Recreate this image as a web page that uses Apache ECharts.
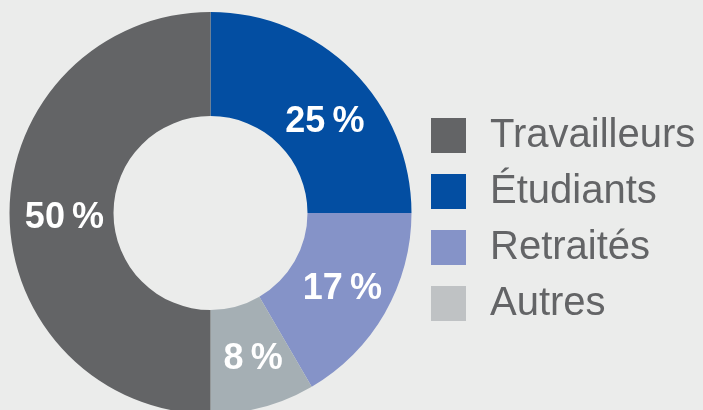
<!DOCTYPE html>
<html>
<head>
<meta charset="utf-8">
<style>
  html, body { margin: 0; padding: 0; background: #ebeceb; }
  #main { width: 703px; height: 410px; }
</style>
<script src="https://cdn.jsdelivr.net/npm/echarts@6/dist/echarts.min.js"></script>
</head>
<body>
<div id="main"></div>
<script>
// slices in clockwise order from the top
var categories = ['Étudiants', 'Retraités', 'Autres', 'Travailleurs'];
var values = [25, 16.6, 8.4, 50];
// legend order
var legendOrder = ['Travailleurs', 'Étudiants', 'Retraités', 'Autres'];

var sliceColors = ['#034ea2', '#8593c8', '#a5afb4', '#636466'];
var legendColors = ['#636466', '#034ea2', '#8593c8', '#bfc2c4'];
// small nudges so labels sit like the original
var labelNudge = [[7, 17], [0, 0], [3, -1], [6, 5]];

var chartDom = document.getElementById('main');
var myChart = echarts.init(chartDom);
var option;

option = {
  backgroundColor: '#ebeceb',
  animation: false,
  legend: {
    orient: 'vertical',
    left: 431,
    top: 115.5,
    padding: 0,
    icon: 'rect',
    itemWidth: 35,
    itemHeight: 35,
    itemGap: 16,
    textStyle: {
      fontFamily: 'Liberation Sans, Arial, sans-serif',
      fontSize: 40,
      lineHeight: 40,
      color: '#636466',
      padding: [0, 0, 0, 19]
    },
    data: legendOrder.map(function (name, i) {
      return { name: name, itemStyle: { color: legendColors[i] } };
    })
  },
  series: [
    {
      type: 'pie',
      center: [210.5, 213],
      radius: [97, 201],
      startAngle: 90,
      clockwise: true,
      avoidLabelOverlap: false,
      silent: true,
      label: {
        show: true,
        position: 'inside',
        color: '#ffffff',
        fontFamily: 'Liberation Sans, Arial, sans-serif',
        fontWeight: 'bold',
        fontSize: 36,
        formatter: function (p) {
          return Math.round(p.value) + '\u2009%';
        }
      },
      labelLine: { show: false },
      itemStyle: { borderWidth: 0 },
      data: categories.map(function (name, i) {
        return {
          name: name,
          value: values[i],
          itemStyle: { color: sliceColors[i] },
          label: { offset: labelNudge[i] }
        };
      })
    }
  ]
};

option && myChart.setOption(option);
</script>
</body>
</html>
